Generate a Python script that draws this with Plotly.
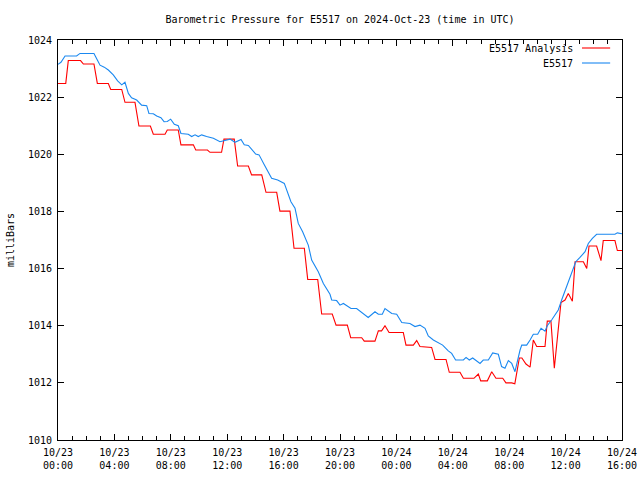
import pandas as pd
import plotly.graph_objects as go

START = "2024-10-23 00:00"

# Hours after start and pressure values (mb)
analysis_hours = [0.0, 0.55, 0.73, 1.6, 1.8, 2.55, 2.79, 3.57, 3.74, 4.52, 4.75, 5.46, 5.74, 6.55,
                  6.76, 7.59, 7.75, 8.53, 8.72, 9.6, 9.77, 10.6, 10.78, 11.6, 11.77, 12.5, 12.74,
                  13.5, 13.73, 14.45, 14.75, 15.51, 15.74, 16.45, 16.74, 17.47, 17.71, 18.42,
                  18.7, 19.45, 19.72, 20.52, 20.76, 21.54, 21.72, 22.48, 22.72, 22.95, 23.19,
                  23.48, 24.49, 24.68, 25.2, 25.44, 25.67, 26.5, 26.74, 27.52, 27.75, 28.51,
                  28.75, 29.5, 29.81, 29.98, 30.45, 30.76, 31.06, 31.54, 31.77, 32.18, 32.4,
                  32.72, 32.9, 33.19, 33.48, 33.71, 33.95, 34.54, 34.7, 34.96, 35.2, 35.55,
                  35.67, 35.96, 36.19, 36.48, 36.67, 37.26, 37.5, 37.66, 38.2, 38.51, 38.67,
                  39.5, 39.67, 40.0]
analysis_values = [1022.48, 1022.48, 1023.28, 1023.28, 1023.16, 1023.16, 1022.48, 1022.48, 1022.27,
                   1022.27, 1021.82, 1021.82, 1020.99, 1020.99, 1020.70, 1020.70, 1020.85, 1020.85,
                   1020.33, 1020.33, 1020.15, 1020.15, 1020.07, 1020.07, 1020.53, 1020.53, 1019.59,
                   1019.59, 1019.28, 1019.28, 1018.67, 1018.67, 1018.01, 1018.01, 1016.71, 1016.71,
                   1015.62, 1015.62, 1014.41, 1014.41, 1014.02, 1014.02, 1013.58, 1013.58, 1013.46,
                   1013.46, 1013.82, 1013.82, 1014.0, 1013.76, 1013.76, 1013.32, 1013.32, 1013.48,
                   1013.27, 1013.24, 1012.82, 1012.82, 1012.37, 1012.37, 1012.16, 1012.16, 1012.31,
                   1012.07, 1012.07, 1012.39, 1012.16, 1012.16, 1012.0, 1012.0, 1011.97, 1012.87,
                   1012.87, 1012.66, 1012.55, 1013.5, 1013.27, 1013.27, 1014.16, 1014.16, 1012.51,
                   1014.08, 1014.81, 1014.9, 1015.13, 1014.86, 1016.24, 1016.24, 1016.0, 1016.79,
                   1016.79, 1016.28, 1016.98, 1016.98, 1016.63, 1016.63]

station_hours = [0.0, 0.21, 0.5, 1.32, 1.56, 2.55, 2.79, 2.98, 3.28, 3.57, 3.92, 4.23, 4.52, 4.75,
                 4.99, 5.22, 5.58, 5.93, 6.29, 6.45, 6.76, 7.0, 7.3, 7.52, 7.75, 7.99, 8.25, 8.53,
                 8.72, 9.24, 9.48, 9.72, 9.95, 10.19, 10.54, 11.02, 11.49, 11.84, 12.2, 12.55,
                 12.98, 13.21, 13.5, 14.02, 14.26, 14.63, 15.15, 15.58, 16.05, 16.52, 16.81,
                 17.04, 17.35, 17.75, 17.99, 18.46, 18.82, 19.29, 19.41, 19.76, 20.0, 20.24,
                 20.54, 20.78, 21.18, 21.65, 22.0, 22.48, 22.72, 23.0, 23.19, 23.67, 24.02,
                 24.38, 24.96, 25.32, 25.67, 26.03, 26.26, 26.62, 26.97, 27.28, 27.68, 27.92,
                 28.2, 28.75, 28.94, 29.17, 29.41, 29.93, 30.16, 30.52, 30.83, 31.23, 31.46,
                 31.7, 31.94, 32.18, 32.41, 32.55, 32.77, 32.89, 33.24, 33.48, 33.71, 34.02,
                 34.26, 34.54, 34.7, 35.01, 35.25, 35.48, 35.72, 36.08, 36.43, 36.72, 37.02,
                 37.38, 37.61, 37.9, 38.2, 39.5, 39.67, 40.0]
station_values = [1023.15, 1023.22, 1023.44, 1023.44, 1023.53, 1023.53, 1023.3, 1023.12, 1023.05,
                  1022.95, 1022.78, 1022.57, 1022.43, 1022.52, 1022.13, 1021.98, 1021.9, 1021.72,
                  1021.7, 1021.43, 1021.42, 1021.34, 1021.28, 1021.14, 1021.15, 1021.23, 1021.05,
                  1021.0, 1020.73, 1020.7, 1020.62, 1020.68, 1020.62, 1020.68, 1020.62, 1020.56,
                  1020.44, 1020.48, 1020.53, 1020.42, 1020.52, 1020.33, 1020.31, 1020.01, 1019.98,
                  1019.63, 1019.16, 1019.1, 1018.98, 1018.34, 1018.11, 1017.58, 1017.29, 1016.82,
                  1016.3, 1015.89, 1015.48, 1015.1, 1014.9, 1014.88, 1014.72, 1014.78, 1014.68,
                  1014.6, 1014.6, 1014.43, 1014.29, 1014.49, 1014.4, 1014.4, 1014.6, 1014.43,
                  1014.4, 1014.11, 1014.08, 1013.97, 1014.02, 1013.91, 1013.64, 1013.5, 1013.41,
                  1013.32, 1013.12, 1013.03, 1012.8, 1012.8, 1012.89, 1012.8, 1012.87, 1012.68,
                  1012.8, 1012.8, 1013.05, 1013.0, 1012.57, 1012.51, 1012.78, 1012.68, 1012.39,
                  1012.7, 1013.15, 1013.32, 1013.32, 1013.5, 1013.7, 1013.7, 1013.91, 1013.81,
                  1014.0, 1014.2, 1014.38, 1014.55, 1014.9, 1015.37, 1015.83, 1016.24, 1016.39,
                  1016.59, 1016.88, 1017.06, 1017.2, 1017.2, 1017.25, 1017.22]

x_tick_format = "%m/%d<br>%H:%M"
x_major_hours = 4
x_minor_hours = 1
y_ticks = [1010, 1012, 1014, 1016, 1018, 1020, 1022, 1024]

t0 = pd.Timestamp(START)
def to_time(hours):
    return [t0 + pd.Timedelta(hours=h) for h in hours]

HOUR_MS = 3600000
RED = "#ff0000"
BLUE = "#1a88f0"
FONT = "DejaVu Sans Mono"
x_range = [to_time([0])[0], to_time([40])[0]]

fig = go.Figure()
fig.add_trace(go.Scatter(x=to_time(analysis_hours), y=analysis_values, mode="lines",
                         name="E5517 Analysis", line=dict(color=RED, width=1.1),
                         showlegend=False))
fig.add_trace(go.Scatter(x=to_time(station_hours), y=station_values, mode="lines",
                         name="E5517", line=dict(color=BLUE, width=1.1),
                         showlegend=False))
# same data on an overlay axis that only carries the hourly minor ticks
fig.add_trace(go.Scatter(x=to_time(station_hours), y=station_values, mode="lines",
                         xaxis="x2", line=dict(color="rgba(0,0,0,0)", width=0),
                         hoverinfo="skip", showlegend=False))

axis_common = dict(showline=True, linecolor="black", linewidth=1, mirror="ticks",
                   ticks="inside", tickcolor="black", tickwidth=1, showgrid=False,
                   zeroline=False, automargin=False,
                   tickfont=dict(family=FONT, size=10, color="black"))

fig.update_layout(
    xaxis=dict(type="date", range=x_range, tickmode="linear", tick0=t0,
               dtick=x_major_hours * HOUR_MS, tickformat=x_tick_format,
               ticklen=6, ticklabelstandoff=3, **axis_common),
    xaxis2=dict(type="date", range=x_range, overlaying="x", side="bottom", anchor="y",
                tickmode="linear", tick0=t0, dtick=x_minor_hours * HOUR_MS,
                ticks="inside", ticklen=4, tickcolor="black", tickwidth=1,
                showticklabels=False, showline=True, linecolor="black", linewidth=1,
                mirror="ticks", showgrid=False, zeroline=False, automargin=False),
    yaxis=dict(range=[1010, 1024], tickmode="array", tickvals=y_ticks,
               ticktext=[str(v) for v in y_ticks], ticklen=6, ticklabelstandoff=3,
               **axis_common),
)

# legend (gnuplot style: text right, sample line after it)
legend_entries = [("E5517 Analysis", RED, 0.98), ("E5517", BLUE, 0.9425)]
for label, color, yp in legend_entries:
    fig.add_annotation(x=0.917, y=yp, xref="paper", yref="paper", text=label,
                       showarrow=False, xanchor="right", yanchor="middle",
                       font=dict(family=FONT, size=10, color="black"))
    fig.add_shape(type="line", xref="paper", yref="paper", x0=0.929, x1=0.979,
                  y0=yp, y1=yp, line=dict(color=color, width=1.1))

fig.add_annotation(x=-0.085, y=0.5, xref="paper", yref="paper", text="milliBars",
                   textangle=-90, showarrow=False, xanchor="center", yanchor="middle",
                   font=dict(family=FONT, size=10, color="black"))

fig.update_layout(
    width=640, height=480,
    margin=dict(l=58, r=18, t=40, b=40, autoexpand=False),
    paper_bgcolor="white", plot_bgcolor="white",
    title=dict(text="Barometric Pressure for E5517 on 2024-Oct-23 (time in UTC)",
               x=0.5, xref="paper", y=1 - 19 / 480, yanchor="middle",
               font=dict(family=FONT, size=10, color="black")),
    font=dict(family=FONT, size=10, color="black"),
)

fig.write_html("out.html", config={"displayModeBar": False},
               post_script="document.body.style.margin='0';")
